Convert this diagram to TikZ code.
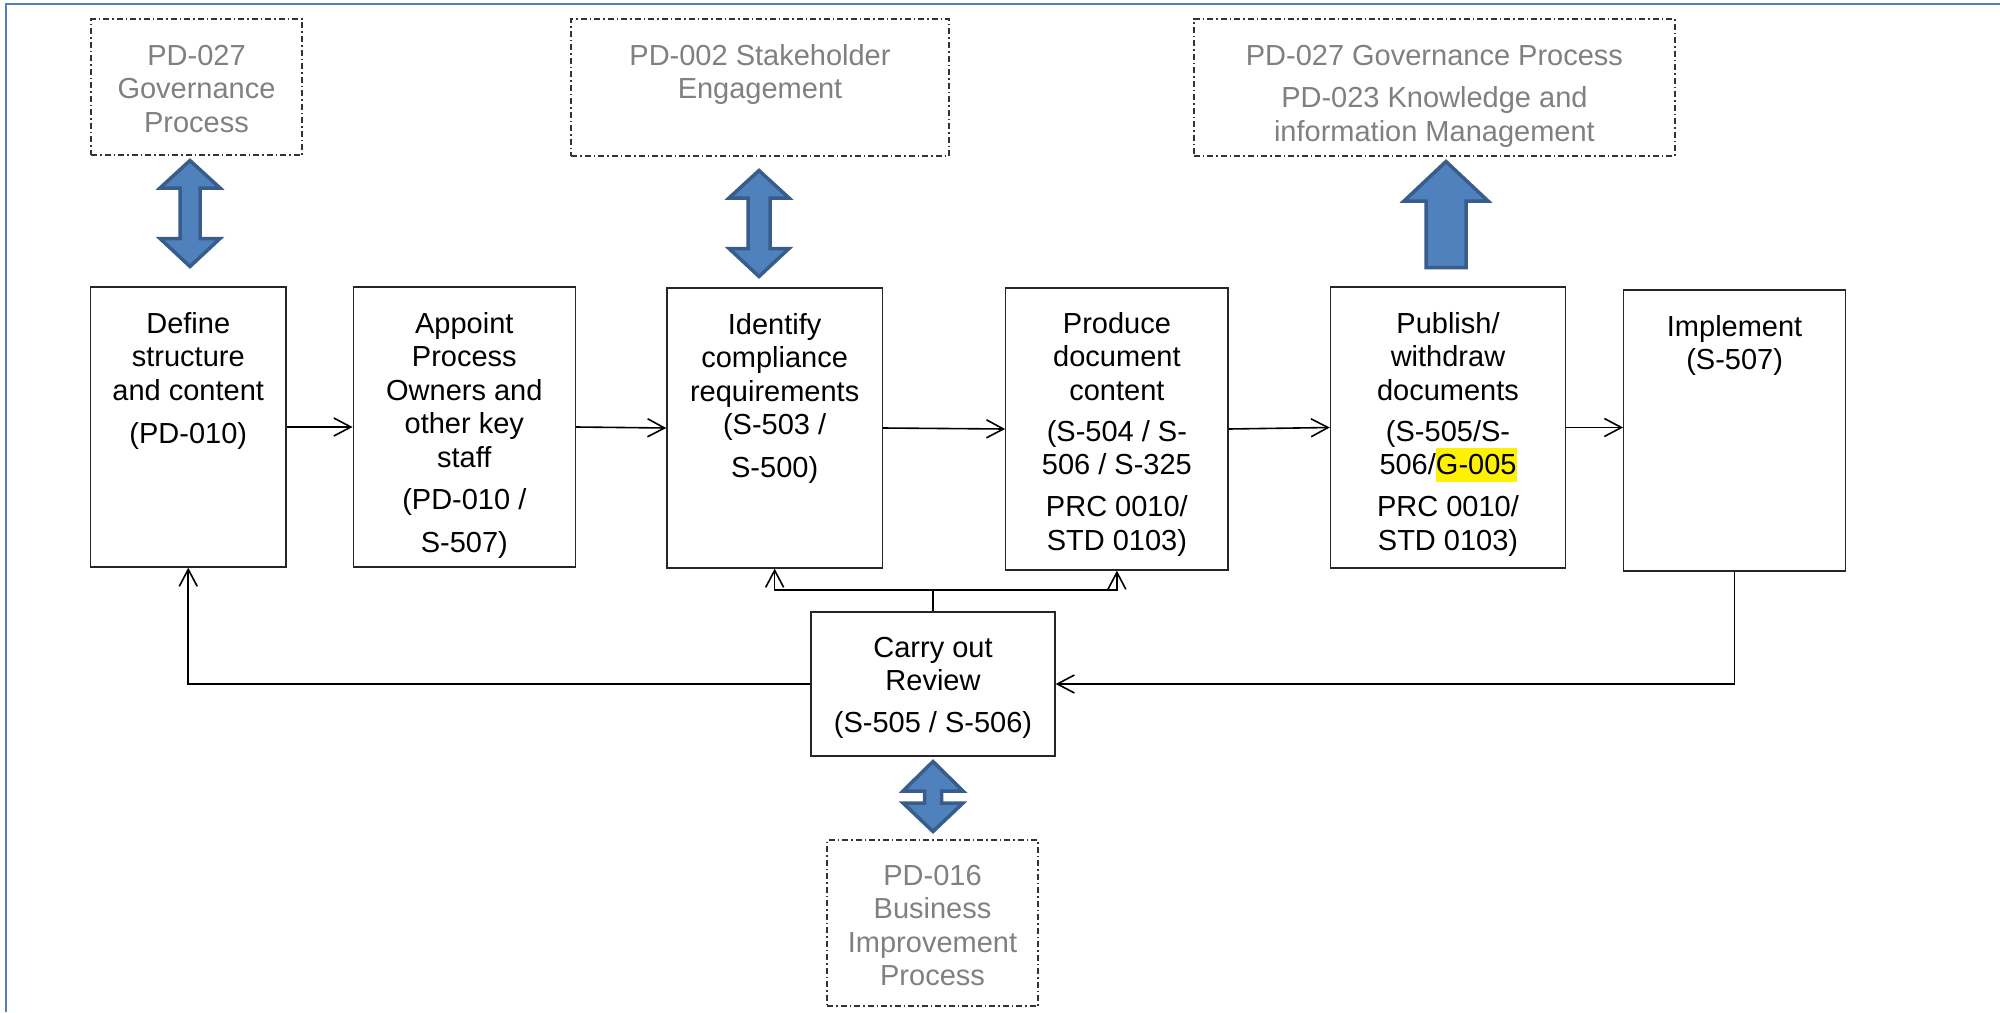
\documentclass[tikz,border=0pt]{standalone}
\usepackage{fontspec}
\setmainfont{Liberation Sans}
\usetikzlibrary{arrows.meta}

\definecolor{framecol}{HTML}{4F81BD}
\definecolor{arrowfill}{HTML}{4F81BD}
\definecolor{arrowedge}{HTML}{385D8A}
\definecolor{refgray}{HTML}{808080}

% yellow text highlight
\newcommand{\hlt}[1]{{\setlength{\fboxsep}{0pt}\colorbox{yellow}{\rule[-3.5pt]{0pt}{17pt}#1}}}

% block double arrow: cx, ytop, head base 1, head base 2, ybottom, head half width, shaft half width
\newcommand{\blockdbl}[7]{%
  \draw[blockarrow] (#1,#2) -- ({#1+#6},#3) -- ({#1+#7},#3) -- ({#1+#7},#4) -- ({#1+#6},#4)
    -- (#1,#5) -- ({#1-#6},#4) -- ({#1-#7},#4) -- ({#1-#7},#3) -- ({#1-#6},#3) -- cycle;}
% block up arrow: cx, ytop, head base, ybottom, head half width, shaft half width
\newcommand{\blockup}[6]{%
  \draw[blockarrow] (#1,#2) -- ({#1+#5},#3) -- ({#1+#6},#3) -- ({#1+#6},#4)
    -- ({#1-#6},#4) -- ({#1-#6},#3) -- ({#1-#5},#3) -- cycle;}

\begin{document}
\begin{tikzpicture}[x=0.5pt,y=-0.5pt,
  procbox/.style={draw=black!85, line width=0.65pt, inner sep=0pt, fill=white},
  refbox/.style={draw=black!80, line width=0.7pt,
    dash pattern=on 3pt off 1.5pt on 0.75pt off 1.5pt, inner sep=0pt},
  boxtext/.style={anchor=north, inner sep=0pt, align=center, text=black,
    font={\fontsize{14.5}{16.75}\selectfont\lineskiplimit=-20pt}},
  reftext/.style={anchor=north, inner sep=0pt, align=center, text=refgray,
    font={\fontsize{14.5}{16.75}\selectfont\lineskiplimit=-20pt}},
  conn/.style={draw=black, line width=0.8pt},
  arr/.style={-{Straight Barb[length=8.5pt,width=9pt]}},
  blockarrow/.style={fill=arrowfill, draw=arrowedge, line width=1.75pt, line join=miter},
  frame/.style={draw=framecol, line width=1.25pt}]

\useasboundingbox (0,0) rectangle (2000,1012);

% page frame
\draw[frame] (6,1012) -- (6,4) -- (2000,4);

% process boxes
\node[procbox, minimum width=97.75pt, minimum height=140pt]   (def) at (188.25,427)  {};
\node[procbox, minimum width=111.1pt, minimum height=140pt]   (app) at (464.3,427)   {};
\node[procbox, minimum width=107.75pt,minimum height=140pt]   (idf) at (774.65,428)  {};
\node[procbox, minimum width=111.1pt, minimum height=141pt]   (prd) at (1116.9,429)  {};
\node[procbox, minimum width=117.6pt, minimum height=140.5pt] (pub) at (1448,427.5)  {};
\node[procbox, minimum width=110.9pt, minimum height=140.5pt] (imp) at (1734.6,430.5) {};
\node[procbox, minimum width=122pt,   minimum height=72pt]    (rev) at (933,684)     {};

% related process boxes
\node[refbox, minimum width=105.5pt, minimum height=68pt]   (gov)  at (196.5,87)   {};
\node[refbox, minimum width=189pt,   minimum height=68.5pt] (stk)  at (760,87.5)   {};
\node[refbox, minimum width=240.6pt, minimum height=68.5pt] (kim)  at (1434.4,87.5) {};
\node[refbox, minimum width=105.5pt, minimum height=83pt]   (bip)  at (932.5,923)  {};

% box texts
\node[boxtext] (defT) at (188.25,309)
  {\rule{0pt}{12pt}Define\\structure\\and content\\[4.75pt](PD-010)};
\node[boxtext] (appT) at (464.3,309)
  {\rule{0pt}{12pt}Appoint\\Process\\Owners and\\other key\\staff\\[4.5pt](PD-010 /\\[4.5pt]S-507)};
\node[boxtext] (idfT) at (774.65,310)
  {\rule{0pt}{12pt}Identify\\compliance\\requirements\\(S-503 /\\[4.5pt]S-500)};
\node[boxtext] (prdT) at (1116.9,309)
  {\rule{0pt}{12pt}Produce\\document\\content\\[3.75pt](S-504 / S-\\506 / S-325\\[4.25pt]PRC 0010/\\STD 0103)};
\node[boxtext] (pubT) at (1448,309)
  {\rule{0pt}{12pt}Publish/\\withdraw\\documents\\[3.75pt](S-505/S-\\506/\hlt{G-005}\\[4.25pt]PRC 0010/\\STD 0103)};
\node[boxtext] (impT) at (1734.6,312)
  {\rule{0pt}{12pt}Implement\\(S-507)};
\node[boxtext] (revT) at (933,633)
  {\rule{0pt}{12pt}Carry out\\Review\\[4pt](S-505 / S-506)};

\node[reftext] (govT) at (196.5,41) {\rule{0pt}{12pt}PD-027\\Governance\\Process};
\node[reftext] (stkT) at (760,41) {\rule{0pt}{12pt}PD-002 Stakeholder\\Engagement};
\node[reftext] (kimT) at (1434.4,41)
  {\rule{0pt}{12pt}PD-027 Governance Process\\[4.5pt]PD-023 Knowledge and\\information Management};
\node[reftext] (bipT) at (932.5,861) {\rule{0pt}{12pt}PD-016\\Business\\Improvement\\Process};

% main flow
\draw[conn, arr] (def.east) -- (app.west);
\draw[conn, arr] (app.east) -- (idf.west);
\draw[conn, arr] (idf.east) -- (prd.west);
\draw[conn, arr] (prd.east) -- (pub.west);
\draw[conn, arr] (pub.east) -- (pub.east -| imp.west);

% review feeds back into the earlier steps
\coordinate (bus) at (933,590);
\coordinate (fbL) at (188.25,684);
\draw[conn] (rev.north) -- (bus);
\draw[conn, arr] (bus) -| (idf.south);
\draw[conn, arr] (bus) -| (prd.south);
\draw[conn, arr] (rev.west) -- (fbL) -- (def.south);
\draw[conn, arr] (imp.south) |- (rev.east);

% links to related processes
\blockdbl{190}{160.5}{188}{238.5}{266.5}{30}{10}
\blockdbl{759}{170.5}{198}{248.5}{276.5}{30}{11}
\blockup{1446}{161.5}{201}{267.5}{42}{20}
\blockdbl{933}{761.5}{791}{803}{831.5}{30}{8.5}

\end{tikzpicture}
\end{document}
